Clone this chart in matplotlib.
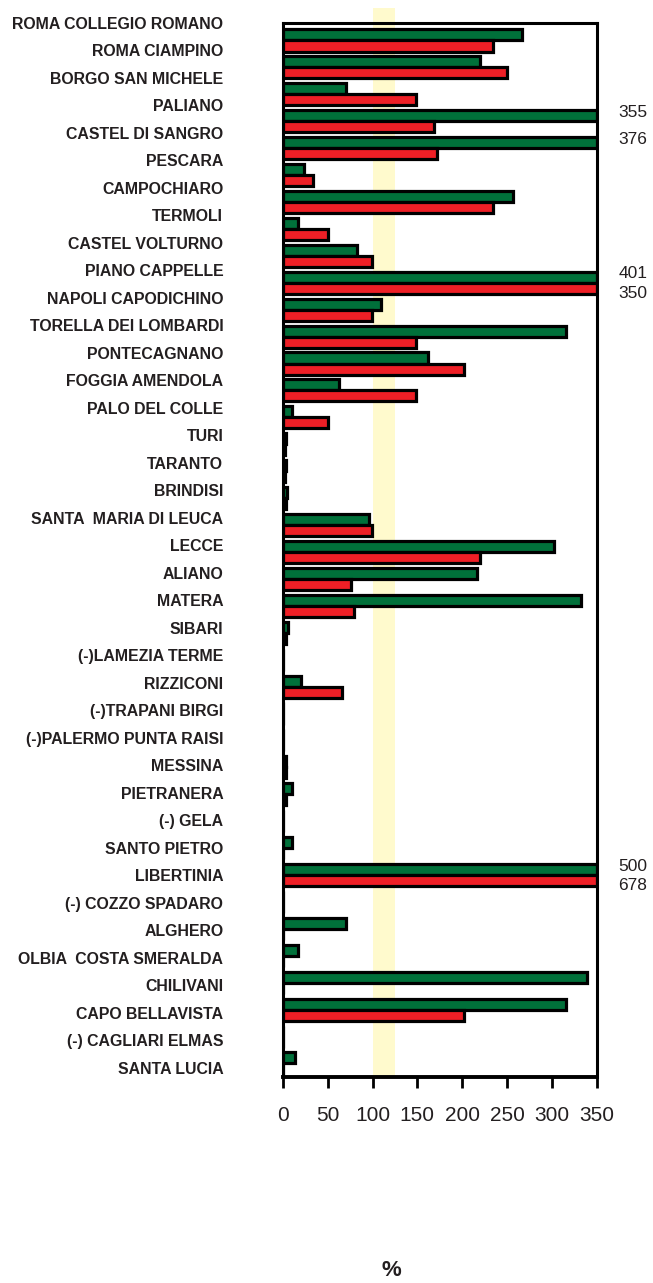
import matplotlib.pyplot as plt
import matplotlib.transforms as mtransforms
import numpy as np

plt.rcParams['font.family'] = ['Liberation Sans', 'DejaVu Sans']

stations = ['ROMA COLLEGIO ROMANO', 'ROMA CIAMPINO', 'BORGO SAN MICHELE', 'PALIANO',
            'CASTEL DI SANGRO', 'PESCARA', 'CAMPOCHIARO', 'TERMOLI', 'CASTEL VOLTURNO',
            'PIANO CAPPELLE', 'NAPOLI CAPODICHINO', 'TORELLA DEI LOMBARDI', 'PONTECAGNANO',
            'FOGGIA AMENDOLA', 'PALO DEL COLLE', 'TURI', 'TARANTO', 'BRINDISI',
            'SANTA  MARIA DI LEUCA', 'LECCE', 'ALIANO', 'MATERA', 'SIBARI',
            '(-)LAMEZIA TERME', 'RIZZICONI', '(-)TRAPANI BIRGI', '(-)PALERMO PUNTA RAISI',
            'MESSINA', 'PIETRANERA', '(-) GELA', 'SANTO PIETRO', 'LIBERTINIA',
            '(-) COZZO SPADARO', 'ALGHERO', 'OLBIA  COSTA SMERALDA', 'CHILIVANI',
            'CAPO BELLAVISTA', '(-) CAGLIARI ELMAS', 'SANTA LUCIA']

green_vals = [267, 220, 70, 355, 376, 23, 257, 17, 83, 401, 109, 316, 162, 63, 10, 3, 3, 4,
              96, 303, 217, 333, 6, 0, 20, 0, 0, 3.5, 10, 0, 10, 500, 0, 70, 17, 339, 316, 0, 13]
red_vals = [234, 250, 149, 169, 172, 33, 234, 50, 99, 350, 99, 149, 202, 149, 50, 2, 2, 3,
            99, 220, 76, 79, 3, 0, 66, 0, 0, 3, 3.5, 0, 0, 678, 0, 0, 0, 0, 202, 0, 0]

xmax = 350
green = '#00703a'
red = '#ee1f26'
txt = '#231f20'

fig = plt.figure(figsize=(6.53, 12.83), dpi=100)
ax = fig.add_axes([0.4334, 0.1606, 0.4801, 0.8217])

n = len(stations)
y = np.arange(n)
h = 0.41

ax.axvspan(100, 125, ymin=0, ymax=1.014, color='#fffacd', zorder=0, clip_on=False, lw=0)

gv = np.minimum(green_vals, xmax)
rv = np.minimum(red_vals, xmax)
ax.barh(y - h / 2, gv, height=h, color=green, edgecolor='black', linewidth=2.3, zorder=2)
ax.barh(y + h / 2, rv, height=h, color=red, edgecolor='black', linewidth=2.3, zorder=2)

# values that go past the axis
trans = mtransforms.blended_transform_factory(ax.transAxes, ax.transData)
for i in range(n):
    if green_vals[i] >= xmax:
        ax.text(1.07, i - h / 2 - 0.13, '%d' % green_vals[i], transform=trans, ha='left',
                va='center', fontsize=12.5, color=txt)
    if red_vals[i] >= xmax:
        ax.text(1.07, i + h / 2 + 0.2, '%d' % red_vals[i], transform=trans, ha='left',
                va='center', fontsize=12.5, color=txt)

ax.set_xlim(0, xmax)
ax.set_ylim(n - 0.5, -0.66)
ax.set_xticks(np.arange(0, 351, 50))
ax.tick_params(axis='x', direction='out', length=8, width=2, pad=13, labelsize=15,
               labelcolor=txt)

lab_pos = [i - 0.649 + 0.0212 * i for i in range(n)]
ax.set_yticks(lab_pos)
ax.set_yticklabels(stations, fontsize=11.4, fontweight='bold', color=txt)
ax.tick_params(axis='y', length=0, pad=43)

for s in ['left', 'right', 'top']:
    ax.spines[s].set_linewidth(2.2)
ax.spines['bottom'].set_linewidth(2.8)

fig.text(0.600, 0.0101, '%', ha='center', va='center', fontsize=16, fontweight='bold',
         color=txt)

fig.savefig('out.png', dpi=100)
